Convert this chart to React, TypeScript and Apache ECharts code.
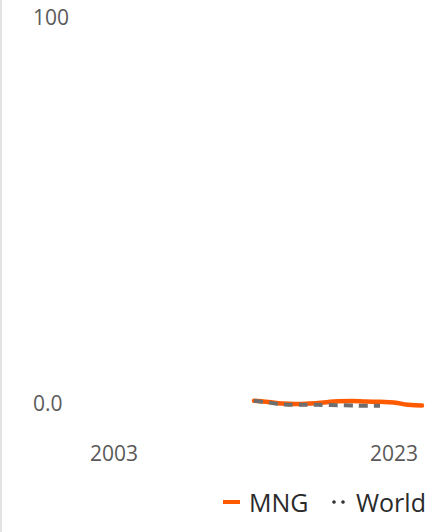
import React, { useEffect, useRef } from "react";
import * as echarts from "echarts";

const mngYears = [2013, 2014, 2015, 2016, 2017, 2018, 2019, 2020, 2021, 2022, 2023, 2024, 2025];
const mngValues = [0.57, 0.26, -0.13, -0.26, -0.13, 0.13, 0.47, 0.52, 0.39, 0.31, 0.13, -0.47, -0.65];
const worldYears = [2013, 2014, 2015, 2016, 2017, 2018, 2019, 2020, 2021, 2022];
const worldValues = [0.57, 0.13, -0.34, -0.44, -0.44, -0.52, -0.57, -0.65, -0.7, -0.7];
const xTickYears = [2003, 2023];
const yTickValues = [0, 100];
const seriesNames = ["MNG", "World"];

const FONT = "'Open Sans', 'Noto Sans', sans-serif";

export default function App() {
  const ref = useRef<HTMLDivElement>(null);
  useEffect(() => {
    document.body.style.margin = "0";
    if (!ref.current) return;
    const chart = echarts.init(ref.current, null, { renderer: "svg" });
    chart.setOption({
      animation: false,
      backgroundColor: "#ffffff",
      grid: { left: 114, right: 25, top: 17, bottom: 129, containLabel: false },
      xAxis: {
        type: "value",
        min: 2003,
        max: 2025,
        axisLine: { show: false },
        axisTick: { show: false },
        splitLine: { show: false },
        axisLabel: {
          customValues: xTickYears,
          formatter: (v: number) => String(v),
          color: "#5a5a5a",
          fontSize: 21,
          fontFamily: FONT,
          margin: 39,
        },
      },
      yAxis: {
        type: "value",
        min: 0,
        max: 100,
        axisLine: { show: false },
        axisTick: { show: false },
        splitLine: { show: false },
        axisLabel: {
          customValues: yTickValues,
          formatter: (v: number) => (v === 0 ? "0.0" : String(v)),
          color: "#5a5a5a",
          fontSize: 21,
          fontFamily: FONT,
          align: "left",
          margin: 81,
        },
      },
      series: [
        {
          name: seriesNames[0],
          type: "line",
          smooth: true,
          clip: false,
          showSymbol: false,
          data: mngYears.map((y, i) => [y, mngValues[i]]),
          lineStyle: { color: "#ff5a00", width: 4.5, cap: "round" },
          z: 2,
        },
        {
          name: seriesNames[1],
          type: "line",
          smooth: true,
          clip: false,
          showSymbol: false,
          data: worldYears.map((y, i) => [y, worldValues[i]]),
          lineStyle: { color: "#6e6e6e", width: 4, type: [9, 6] },
          z: 3,
        },
      ],
      graphic: [
        { type: "rect", left: 0, top: 0, shape: { width: 2, height: 532 }, style: { fill: "#e3e3e3" } },
        { type: "rect", x: 223, y: 500, shape: { width: 17, height: 4 }, style: { fill: "#ff5a00" } },
        {
          type: "text",
          x: 249,
          y: 502,
          style: { text: seriesNames[0], fill: "#2a2a2a", fontSize: 25, fontFamily: FONT, verticalAlign: "middle" },
        },
        { type: "circle", shape: { cx: 334, cy: 502, r: 1.8 }, style: { fill: "#333333" } },
        { type: "circle", shape: { cx: 343, cy: 502, r: 1.8 }, style: { fill: "#333333" } },
        {
          type: "text",
          x: 356,
          y: 502,
          style: { text: seriesNames[1], fill: "#2a2a2a", fontSize: 25, fontFamily: FONT, verticalAlign: "middle" },
        },
      ],
    });
    return () => chart.dispose();
  }, []);
  return <div ref={ref} style={{ width: 447, height: 532 }} />;
}
